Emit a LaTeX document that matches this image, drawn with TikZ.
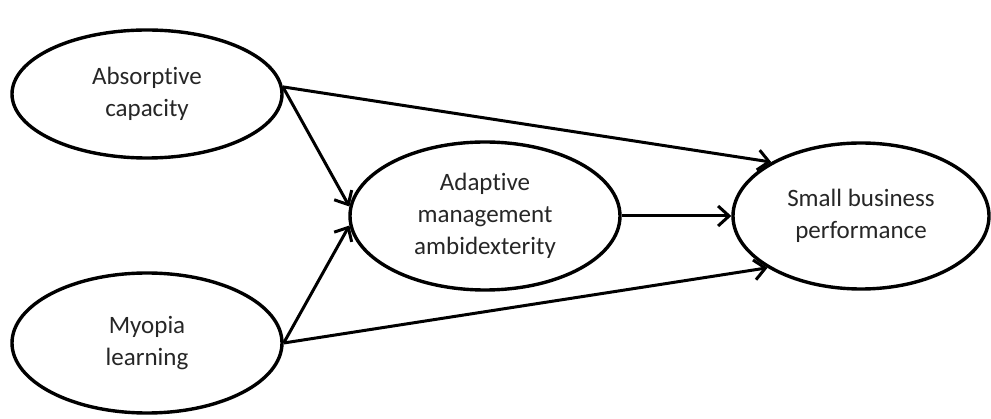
\documentclass[tikz,border=0pt]{standalone}
\usepackage{fontspec}
\setmainfont{Carlito}[Ligatures={NoCommon}]
\usetikzlibrary{shapes.geometric,arrows.meta}
\begin{document}
\begin{tikzpicture}[x=1pt,y=1pt,
  construct/.style={ellipse,draw=black,line width=3.4pt,inner sep=0pt,align=center,
    text=black!85,font=\fontsize{25}{32}\selectfont},
  path/.style={line width=3pt,-{Straight Barb[length=11pt,width=20pt,line width=3pt]}}]
\useasboundingbox (0,0) rectangle (991,418);
\node[construct,minimum width=270pt,minimum height=128pt] (A) at (147,324) {Absorptive\\capacity};
\node[construct,minimum width=270pt,minimum height=140pt] (M) at (147,75) {Myopia\\learning};
\node[construct,minimum width=270pt,minimum height=148pt] (D) at (485,202) {Adaptive\\management\\ambidexterity};
\node[construct,minimum width=256pt,minimum height=146pt] (S) at (861,202) {Small business\\performance};
\draw[path] (A.3) -- (S.149);
\draw[path] (A.3) -- (D.176);
\draw[path] (M.0) -- (D.184);
\draw[path] (M.0) -- (S.209);
\draw[path] (D.east) -- (S.west);
\end{tikzpicture}
\end{document}
